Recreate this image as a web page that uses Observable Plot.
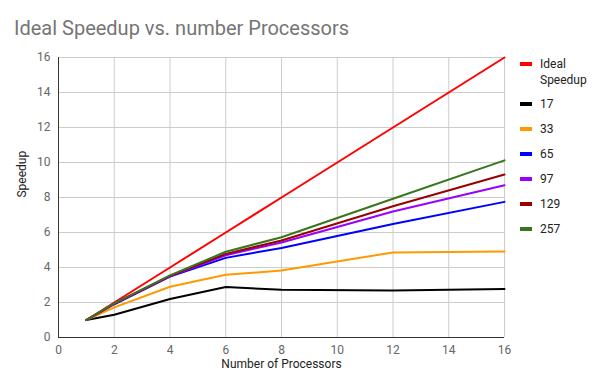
<!DOCTYPE html>
<html><head><meta charset="utf-8">
<script src="https://cdn.jsdelivr.net/npm/d3@7"></script>
<script src="https://cdn.jsdelivr.net/npm/@observablehq/plot@0.6"></script>
<style>
body{margin:0;background:#fff;font-family:Roboto,sans-serif;}
#wrap{position:relative;width:612px;height:377px;}
#title{position:absolute;left:14px;top:16px;font-size:20px;color:#757575;}
#legend{position:absolute;left:520px;top:0;font-size:12px;color:#222;}
.sw{position:absolute;left:0;width:12px;height:4px;}
.lab{position:absolute;left:20px;line-height:16px;}
</style></head>
<body><div id="wrap"><div id="title">Ideal Speedup vs. number Processors</div><div id="legend"></div></div>
<script>
const processors = [1, 2, 4, 6, 8, 12, 16];
const seriesNames = ["Ideal Speedup", "17", "33", "65", "97", "129", "257"];
const seriesColors = ["#ff0000", "#000000", "#ff9900", "#0000ff", "#9900ff", "#990000", "#38761d"];
const ideal = [1, 2, 4, 6, 8, 12, 16];
const s17 = [1, 1.3, 2.2, 2.88, 2.73, 2.68, 2.77];
const s33 = [1, 1.72, 2.9, 3.58, 3.83, 4.86, 4.92];
const s65 = [1, 1.9, 3.48, 4.55, 5.12, 6.48, 7.75];
const s97 = [1, 1.92, 3.5, 4.7, 5.43, 7.2, 8.7];
const s129 = [1, 1.93, 3.52, 4.78, 5.54, 7.5, 9.31];
const s257 = [1, 1.95, 3.55, 4.9, 5.73, 7.93, 10.12];
const seriesValues = [ideal, s17, s33, s65, s97, s129, s257];
const xTicks = [0, 2, 4, 6, 8, 10, 12, 14, 16];
const yTicks = [0, 2, 4, 6, 8, 10, 12, 14, 16];

const data = [];
seriesNames.forEach((name, i) => processors.forEach((p, j) => data.push({series: name, x: p, y: seriesValues[i][j]})));

const chart = Plot.plot({
  width: 612, height: 377,
  marginLeft: 58, marginRight: 108, marginTop: 57, marginBottom: 40,
  style: {fontFamily: "Roboto, sans-serif", fontSize: "12px", color: "#666", background: "transparent"},
  x: {domain: [0, 16], ticks: xTicks, tickSize: 0, tickPadding: 8, label: null},
  y: {domain: [0, 16], ticks: yTicks, tickSize: 0, tickPadding: 8, label: null},
  color: {domain: seriesNames, range: seriesColors},
  marks: [
    Plot.gridX(xTicks, {stroke: "#cccccc", strokeOpacity: 1}),
    Plot.gridY(yTicks, {stroke: "#cccccc", strokeOpacity: 1}),
    Plot.ruleY([0], {stroke: "#333"}),
    Plot.ruleX([0], {stroke: "#333"}),
    Plot.line(data, {x: "x", y: "y", z: "series", stroke: "series", strokeWidth: 2}),
    Plot.text(["Number of Processors"], {frameAnchor: "bottom", dy: 30, fill: "#222", fontSize: 12}),
    Plot.text(["Speedup"], {frameAnchor: "left", dx: -36, rotate: -90, fill: "#222", fontSize: 12})
  ]
});
document.getElementById("wrap").prepend(chart);
chart.style.position = "absolute"; chart.style.left = "0"; chart.style.top = "0";

const legend = document.getElementById("legend");
const legendY = [64, 104, 129, 154, 179, 204, 229];
seriesNames.forEach((name, i) => {
  const sw = document.createElement("div");
  sw.className = "sw"; sw.style.top = (legendY[i] - 2) + "px"; sw.style.background = seriesColors[i];
  legend.appendChild(sw);
  const lab = document.createElement("div");
  lab.className = "lab"; lab.style.top = (legendY[i] - 8) + "px";
  lab.innerHTML = name === "Ideal Speedup" ? "Ideal<br>Speedup" : name;
  legend.appendChild(lab);
});
</script></body></html>
